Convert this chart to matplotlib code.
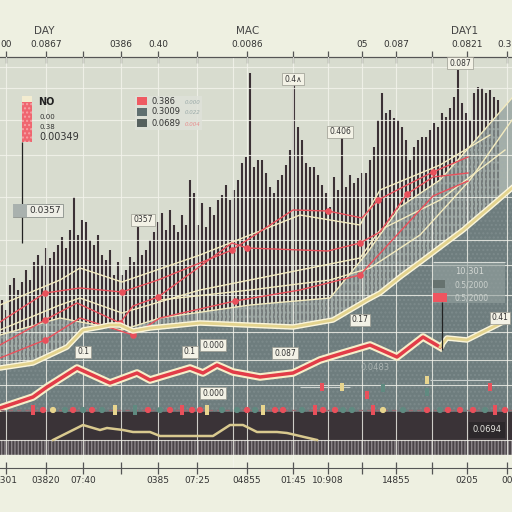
import numpy as np
import matplotlib.pyplot as plt
from matplotlib.patches import Rectangle

# values; y values are pixel rows (smaller = higher)
header_labels = ["DAY", "MAC", "DAY1"]
grid_x = [6, 46, 83, 121, 158, 197, 247, 293, 328, 362, 396, 432, 467, 507]
top_labels = ["00", "0.0867", "", "0386", "0.40", "", "0.0086", "", "", "05",
              "0.087", "", "0.0821", "0.38"]
bottom_labels = ["0301", "03820", "07:40", "", "0385", "07:25", "04855", "01:45",
                 "10:908", "", "14855", "", "0205", "00"]
hgrid = [67, 88, 120, 155, 197, 240, 265, 295, 332, 360, 385, 440]

# dense volume spikes (top of each spike)
bar_top = [300, 310, 285, 278, 290, 282, 270, 280, 262, 255, 265, 248, 258, 252,
           245, 237, 248, 230, 197, 235, 220, 222, 240, 245, 235, 255, 260, 250,
           275, 262, 275, 270, 257, 262, 227, 255, 250, 240, 232, 222, 213, 230,
           210, 225, 232, 215, 225, 180, 193, 225, 203, 227, 207, 215, 200, 195,
           185, 200, 190, 180, 163, 157, 73, 167, 160, 160, 173, 187, 193, 180,
           175, 165, 150, 83, 127, 140, 163, 167, 167, 175, 185, 193, 207, 177,
           190, 137, 187, 175, 183, 178, 173, 173, 160, 147, 120, 93, 113, 110,
           118, 120, 127, 140, 160, 147, 140, 137, 137, 130, 123, 127, 113, 117,
           108, 97, 70, 103, 113, 120, 93, 87, 88, 93, 90, 97, 100]

# upper edge of the lighter teal area
area_x = [0, 60, 120, 160, 250, 330, 367, 400, 440, 473, 512]
area_y = [335, 318, 330, 318, 305, 298, 253, 207, 180, 143, 98]

# cream trend line
yellow_x = [0, 33, 67, 83, 100, 110, 120, 133, 150, 200, 293, 333, 367, 380, 400, 423, 463, 490, 512]
yellow_y = [368, 363, 347, 330, 327, 325, 325, 331, 328, 323, 327, 320, 300, 293, 277, 260, 230, 207, 188]

# thick red line and its cream continuation
red_x = [0, 15, 33, 47, 77, 110, 137, 150, 190, 203, 217, 233, 260, 293, 320, 343, 370, 397, 423, 440]
red_y = [408, 403, 397, 387, 368, 383, 373, 380, 368, 373, 365, 372, 377, 373, 360, 353, 345, 357, 337, 347]
tail_x = [440, 447, 467, 503]
tail_y = [347, 338, 340, 322]

# thin red lines with dots
thin_red = [
    ([0, 45, 80, 122, 158, 232, 293, 328, 362, 378, 407, 433, 468],
     [322, 293, 288, 292, 280, 250, 210, 211, 218, 200, 185, 172, 157]),
    ([0, 45, 77, 120, 133, 158, 232, 247, 328, 360, 380, 407, 433, 468],
     [345, 320, 303, 323, 306, 297, 243, 248, 251, 243, 232, 194, 177, 173]),
    ([0, 45, 80, 133, 160, 235, 300, 360, 433, 468],
     [358, 340, 318, 335, 318, 301, 290, 275, 196, 181]),
]
# thin cream lines
thin_cream = [
    ([0, 60, 80, 122, 200, 300, 360, 380, 440, 490],
     [305, 280, 268, 282, 255, 215, 225, 190, 165, 135]),
    ([0, 60, 80, 122, 200, 300, 360, 380, 440, 505],
     [330, 305, 298, 313, 290, 270, 258, 230, 200, 150]),
    ([0, 60, 122, 160, 250, 330, 367, 400, 440, 473, 512],
     [335, 318, 330, 318, 305, 298, 253, 207, 180, 143, 98]),
    ([160, 250, 330, 370, 420, 470, 512],
     [300, 290, 280, 268, 235, 180, 120]),
]

# line in the dark band
band_x = [53, 83, 100, 107, 123, 133, 150, 160, 213, 230, 243, 257, 277, 287, 317]
band_y = [440, 425, 430, 428, 430, 432, 432, 436, 436, 425, 425, 432, 432, 433, 440]

# dot row
dot_x = [43, 53, 65, 73, 83, 92, 102, 148, 160, 170, 192, 200, 222, 237, 247, 255,
         275, 283, 302, 323, 335, 343, 352, 383, 403, 427, 440, 448, 460, 473, 485, 505]
dot_c = ['r', 'y', 't', 'r', 't', 'r', 't', 'r', 't', 'r', 'r', 'r', 't', 't', 'r', 't',
         'r', 'r', 't', 'r', 'r', 't', 't', 'y', 't', 'r', 't', 'r', 'r', 'r', 't', 'r']
candle_x = [33, 115, 135, 182, 207, 263, 315, 373, 495]
candle_c = ['r', 'y', 't', 'r', 'y', 'y', 'r', 'r', 'r']
up_x = [322, 342, 367, 383, 427, 427, 490]
up_y = [387, 387, 395, 388, 392, 380, 387]
up_c = ['r', 'y', 'r', 't', 't', 'y', 'r']

COL = {'r': '#e9505b', 'y': '#e8d58e', 't': '#5f8a80'}
BG = '#eef0e1'

fig = plt.figure(figsize=(5.12, 5.12), dpi=100, facecolor=BG)
ax = fig.add_axes([0, 1 - 468 / 512, 1, (468 - 57) / 512])
ax.set_facecolor('#d8dccf')
ax.set_xlim(0, 512)
ax.set_ylim(468, 57)

# spikes
bar_x = 2 + 4 * np.arange(len(bar_top))
ax.vlines(bar_x, bar_top, 468, color='#3b3035', lw=1.5, zorder=1)

# areas
ax.fill_between(area_x, area_y, 468, facecolor='#8e9c9a', alpha=0.7,
                hatch='....', edgecolor='#a2aeac', lw=0, zorder=1.2)
ax.fill_between(yellow_x, yellow_y, 468, facecolor='#6e7d7e', hatch='....',
                edgecolor='#7c8a8b', lw=0, zorder=1.3)
ax.axhspan(412, 455, color='#3a3337', zorder=1.4)
ax.axhspan(440, 455, facecolor='#4a4448', hatch='|||||', edgecolor='#8a8488',
           lw=0, zorder=1.45)
ax.axhspan(455, 468, color=BG, zorder=1.5)

# grid
ax.set_xticks(grid_x)
ax.set_xticklabels(bottom_labels, fontsize=6.5, color='#333')
ax.set_yticks(hgrid)
ax.tick_params(axis='y', left=False, labelleft=False)
ax.tick_params(axis='x', direction='inout', length=8, width=0.9, color='#555', pad=2)
ax.set_axisbelow(False)
ax.grid(color='#f4f4ec', lw=0.8, alpha=0.8)
ax.axvline(233, color='#f4f4ec', lw=0.8, alpha=0.8, zorder=2.5)
for s in ['left', 'right']:
    ax.spines[s].set_visible(False)
for s in ['top', 'bottom']:
    ax.spines[s].set_color('#555')

sec = ax.secondary_xaxis('top')
sec.set_xticks(grid_x, labels=top_labels)
sec.tick_params(direction='inout', length=8, width=0.9, color='#555', pad=2,
                labelsize=6.5, labelcolor='#333')
sec.spines['top'].set_color('#555')

# thin lines
for xs, ys in thin_cream:
    ax.plot(xs, ys, color='#f3ebc0', lw=1.0, zorder=3)
for xs, ys in thin_red:
    ax.plot(xs, ys, color='#e9505b', lw=1.0, zorder=3.2)
    ax.scatter(xs[1:-1:2], ys[1:-1:2], s=14, color='#e9505b', zorder=3.3)

# main lines
ax.plot(yellow_x, yellow_y, color='#fbf6dc', lw=4, zorder=4)
ax.plot(yellow_x, yellow_y, color='#e3d38e', lw=2, zorder=4.1)
ax.plot(red_x, red_y, color='#f6eec9', lw=5.5, zorder=4)
ax.plot(red_x, red_y, color='#e23c48', lw=2.5, zorder=4.1)
ax.plot(tail_x, tail_y, color='#fbf6dc', lw=4, zorder=4)
ax.plot(tail_x, tail_y, color='#e3d38e', lw=2, zorder=4.1)
ax.plot(band_x, band_y, color='#d9c98f', lw=1.8, zorder=4)

# dot row + candles
ax.hlines(410, 0, 512, colors='#9a6a70', lw=1, linestyles=(0, (3, 3)), zorder=4.5)
ax.scatter(dot_x, [410] * len(dot_x), s=12, c=[COL[c] for c in dot_c], zorder=5)
ax.bar(candle_x, 10, bottom=405, width=4.5, color=[COL[c] for c in candle_c], zorder=5)
ax.hlines([387, 380], [300, 430], [350, 490], colors='#c9cfcc', lw=0.8, zorder=4.5)
ax.bar(up_x, 8, bottom=np.array(up_y) - 4, width=4.5,
       color=[COL[c] for c in up_c], zorder=5)

# annotations
box = dict(boxstyle='square,pad=0.25', fc='#f3f2e6', ec='#9a9a90', lw=0.5)
notes = [("0357", 143, 220), ("0.4∧", 293, 79), ("0.087", 460, 63),
         ("0.406", 340, 132), ("0.1", 83, 352), ("0.1", 190, 352),
         ("0.000", 213, 345), ("0.087", 285, 353), ("0.000", 213, 393),
         ("0.17", 360, 320), ("0.41", 500, 318)]
for t, x, y in notes:
    ax.text(x, y, t, fontsize=5.5, ha='center', va='center', color='#333',
            bbox=box, zorder=6)
ax.text(375, 368, "0.0483", fontsize=6, ha='center', va='center', color='#aab3b1', zorder=6)
ax.text(487, 430, "0.0694", fontsize=6, ha='center', va='center', color='#e6e6e0',
        bbox=dict(boxstyle='square,pad=0.4', fc='#2c282b', ec='none'), zorder=6)

# left legend
ax.vlines(22, 142, 243, color='#222', lw=0.9, zorder=6)
ax.add_patch(Rectangle((22, 96), 10, 6, fc='#f3ecd0', ec='none', zorder=6))
ax.add_patch(Rectangle((22, 102), 10, 40, fc='#ef6670', hatch='....',
                       ec='#f6a3a6', lw=0, zorder=6))
ax.text(38, 102, "NO", fontsize=7, fontweight='bold', va='center', color='#222', zorder=6)
ax.text(39, 117, "0.00", fontsize=5, va='center', color='#333', zorder=6)
ax.text(39, 127, "0.38", fontsize=5, va='center', color='#333', zorder=6)
ax.text(39, 137, "0.00349", fontsize=7, va='center', color='#333', zorder=6)
ax.add_patch(Rectangle((13, 204), 50, 13, fc='#eeeee6', ec='#8a8f8a', lw=0.6, zorder=6))
ax.add_patch(Rectangle((13, 204), 14, 13, fc='#a9b1ae', ec='none', zorder=6.1))
ax.text(29, 210.5, "0.0357", fontsize=6.5, va='center', color='#333', zorder=6.2)

# middle legend
ax.add_patch(Rectangle((135, 96), 67, 34, fc='#dfe2da', ec='none', alpha=0.8, zorder=6))
leg_rows = [("0.386", "0.000", '#ef5b63', '#9aaaa8'),
            ("0.3009", "0.022", '#5f6f70', '#9aaaa8'),
            ("0.0689", "0.004", '#56615f', '#e88c8c')]
for i, (a, b, c, fc) in enumerate(leg_rows):
    ax.add_patch(Rectangle((137, 97 + 11 * i), 10, 8, fc=c, ec='none', zorder=6.1))
    ax.text(152, 101 + 11 * i, a, fontsize=6, va='center', color='#333', zorder=6.2)
    ax.text(185, 102 + 11 * i, b, fontsize=4, va='center', color=fc,
            style='italic', zorder=6.2)

# right legend
ax.add_patch(Rectangle((433, 263), 72, 40, fc='#95a2a0', ec='none', alpha=0.6, zorder=6))
ax.hlines(262, 433, 505, colors='#d6dbd6', lw=0.8, zorder=6)
ax.text(470, 272, "10.301", fontsize=6, ha='center', va='center', color='#d4d8d4', zorder=6.2)
ax.add_patch(Rectangle((433, 280), 12, 8, fc='#66726f', ec='none', zorder=6.1))
ax.text(472, 285, "0.5/2000", fontsize=5.5, ha='center', va='center', color='#ccd2ce', zorder=6.2)
ax.add_patch(Rectangle((433, 293), 14, 9, fc='#ef5560', ec='none', zorder=6.1))
ax.text(472, 298, "0.5/2000", fontsize=5.5, ha='center', va='center', color='#ccd2ce', zorder=6.2)
ax.vlines(442, 302, 350, color='#222', lw=0.9, zorder=6)

# header labels
for t, x in zip(header_labels, [44, 248, 465]):
    fig.text(x / 512, 1 - 31 / 512, t, fontsize=7.5, ha='center', va='center', color='#444')

fig.savefig("out.png", dpi=100, facecolor=BG)
